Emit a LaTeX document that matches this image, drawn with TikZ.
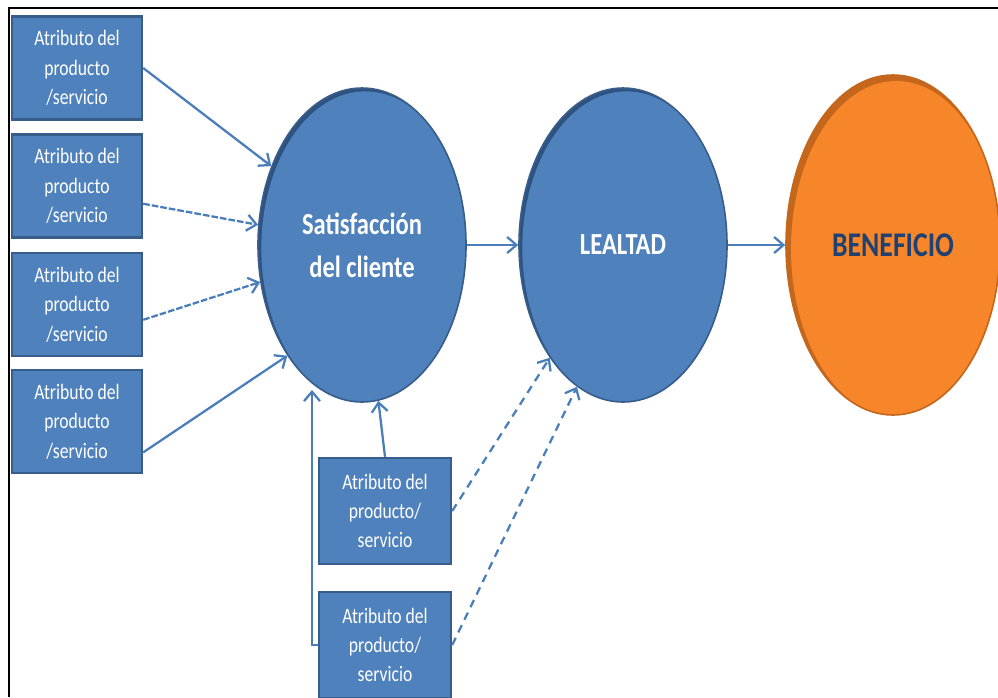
\documentclass[tikz,border=0pt]{standalone}
\usepackage{fontspec}
\setmainfont{Carlito}
\newfontfamily\sqfont[FakeStretch=0.8]{Carlito}
\usetikzlibrary{shapes.geometric,arrows.meta,calc}
\definecolor{cblue}{HTML}{4F81BD}
\definecolor{cborder}{HTML}{385D8A}
\definecolor{cdark}{HTML}{2F5380}
\definecolor{carrow}{HTML}{4A7EBB}
\definecolor{corange}{HTML}{F7862A}
\definecolor{cdorange}{HTML}{C4661C}
\definecolor{cbtext}{HTML}{1F4272}
\begin{document}
\begin{tikzpicture}[x=0.75pt,y=-0.75pt,
  attr/.style={rectangle, fill=cblue, draw=cborder, line width=1.8pt,
    minimum width=97.5pt, minimum height=77pt, inner sep=0pt, align=center,
    text=white, font=\sqfont\fontsize{16.5}{22}\selectfont},
  attrb/.style={attr, minimum width=99pt, minimum height=79.5pt},
  bluecirc/.style={ellipse, fill=cdark, draw=cborder, line width=1.2pt,
    minimum width=156pt, minimum height=235.5pt, inner sep=0pt, align=center,
    text=white, font=\sqfont\bfseries\fontsize{23}{32}\selectfont,
    path picture={\fill[cblue] ([xshift=2.5pt,yshift=-2.5pt]path picture bounding box.center)
      ellipse [x radius=78pt, y radius=117.75pt];}},
  orangecirc/.style={ellipse, fill=cdorange, draw=cdorange, line width=1.2pt,
    minimum width=160.5pt, minimum height=255pt, inner sep=0pt, align=center,
    text=cbtext, font=\sqfont\bfseries\fontsize{26}{32}\selectfont,
    path picture={\fill[corange] ([xshift=2.5pt,yshift=-3pt]path picture bounding box.center)
      ellipse [x radius=79pt, y radius=126pt];}},
  arr/.style={draw=carrow, line width=1.7pt, -{Straight Barb[length=7pt,width=12pt]}},
  shortdash/.style={dash pattern=on 5pt off 1.5pt},
  longdash/.style={dash pattern=on 6pt off 4.5pt}
]
\useasboundingbox (0,0) rectangle (998,697);
\fill[white] (0,0) rectangle (998,697);
\draw[line width=1.5pt] (9,697) -- (9,8) -- (998,8);

\node[attr] (b1) at (77,68) {Atributo del\\producto\\/servicio};
\node[attr] (b2) at (77,186) {Atributo del\\producto\\/servicio};
\node[attr] (b3) at (77,304.5) {Atributo del\\producto\\/servicio};
\node[attr] (b4) at (77,421.5) {Atributo del\\producto\\/servicio};
\node[attrb] (b5) at (385,511) {Atributo del\\producto/\\servicio};
\node[attrb] (b6) at (385,645) {Atributo del\\producto/\\servicio};

\node[bluecirc] (c1) at (362,245) {Satisfacción\\del cliente};
\node[bluecirc] (c2) at (623,245) {LEALTAD};
\node[orangecirc] (c3) at (893,245) {BENEFICIO};

\draw[arr] (b1.east) -- (c1.139);
\draw[arr,shortdash] (b2.-15) -- (c1.169);
\draw[arr,shortdash] (b3.-13) -- (c1.200);
\draw[arr] (b4.-25) -- (c1.236);
\draw[arr] (c1.east) -- (c2.west);
\draw[arr] (c2.east) -- (c3.west);
\draw[arr] (b5.north) -- (c1.-84);
\coordinate (k) at (312,390);
\draw[arr] (b6.west) -| (k);
\draw[arr,longdash] (b5.east) -- (c2.237.6);
\draw[arr,longdash] (b6.east) -- (c2.252.8);
\end{tikzpicture}
\end{document}
